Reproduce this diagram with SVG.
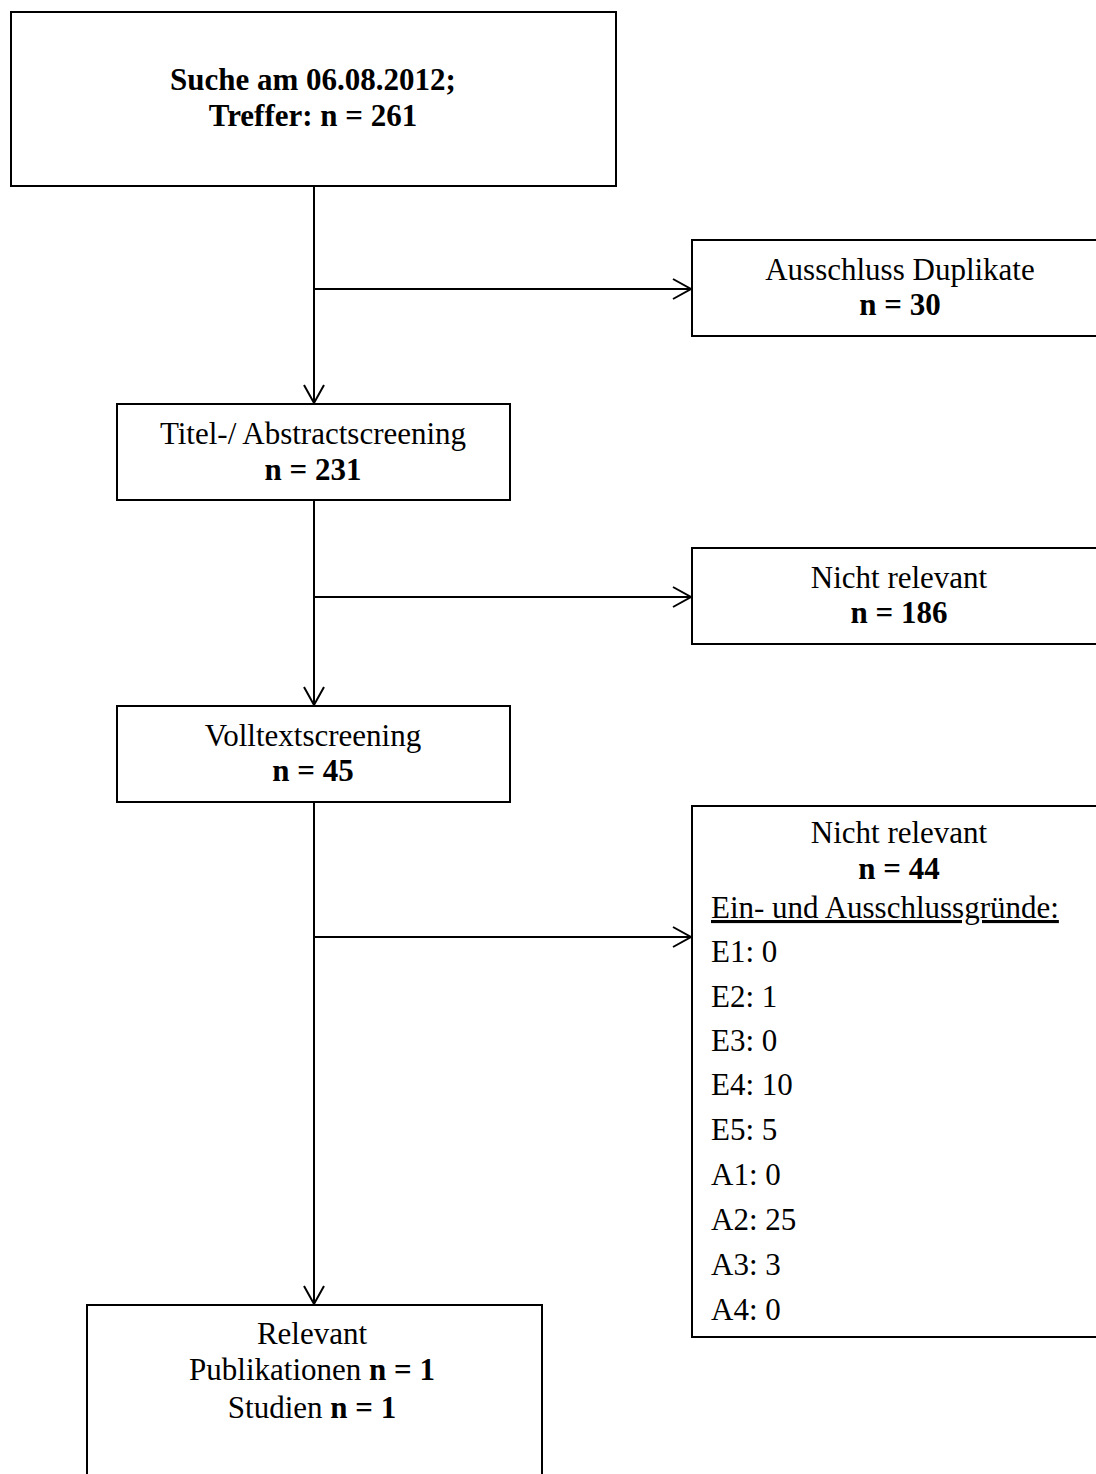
<svg xmlns="http://www.w3.org/2000/svg" width="1096" height="1474" viewBox="0 0 1096 1474">
<style>
.box{fill:#fff;stroke:#000;stroke-width:2}
.t{font-family:"Liberation Serif","Times New Roman",serif;font-size:31px;fill:#000}
.c{text-anchor:middle}
.b{font-weight:bold}
.ln{fill:none;stroke:#000;stroke-width:2}
</style>
<defs>
<marker id="arr" markerUnits="userSpaceOnUse" markerWidth="24" markerHeight="24" viewBox="-20 -12 24 24" refX="0" refY="0" orient="auto">
<path d="M-18,-10 L0,0 L-18,10" fill="none" stroke="#000" stroke-width="2"/>
</marker>
</defs>
<rect width="1096" height="1474" fill="#fff"/>
<g id="connectors">
<line class="ln" x1="314" y1="186" x2="314" y2="403" marker-end="url(#arr)"/>
<line class="ln" x1="314" y1="289" x2="691" y2="289" marker-end="url(#arr)"/>
<line class="ln" x1="314" y1="500" x2="314" y2="705" marker-end="url(#arr)"/>
<line class="ln" x1="314" y1="597" x2="691" y2="597" marker-end="url(#arr)"/>
<line class="ln" x1="314" y1="802" x2="314" y2="1304" marker-end="url(#arr)"/>
<line class="ln" x1="314" y1="937" x2="691" y2="937" marker-end="url(#arr)"/>
</g>
<g id="suche">
<rect class="box" x="11" y="12" width="605" height="174"/>
<text class="t c b" x="313" y="90">Suche am 06.08.2012;</text>
<text class="t c b" x="313" y="126">Treffer: n = 261</text>
</g>
<g id="duplikate">
<rect class="box" x="692" y="240" width="420" height="96"/>
<text class="t c" x="900" y="280">Ausschluss Duplikate</text>
<text class="t c b" x="900" y="315">n = 30</text>
</g>
<g id="titel">
<rect class="box" x="117" y="404" width="393" height="96"/>
<text class="t c" x="313" y="444">Titel-/ Abstractscreening</text>
<text class="t c b" x="313" y="480">n = 231</text>
</g>
<g id="nicht1">
<rect class="box" x="692" y="548" width="420" height="96"/>
<text class="t c" x="899" y="588">Nicht relevant</text>
<text class="t c b" x="899" y="623">n = 186</text>
</g>
<g id="volltext">
<rect class="box" x="117" y="706" width="393" height="96"/>
<text class="t c" x="313" y="746">Volltextscreening</text>
<text class="t c b" x="313" y="781">n = 45</text>
</g>
<g id="nicht2">
<rect class="box" x="692" y="806" width="420" height="531"/>
<text class="t c" x="899" y="843">Nicht relevant</text>
<text class="t c b" x="899" y="879">n = 44</text>
<text class="t" x="711" y="918" text-decoration="underline">Ein- und Ausschlussgründe:</text>
<text class="t" x="711" y="962">E1: 0</text>
<text class="t" x="711" y="1007">E2: 1</text>
<text class="t" x="711" y="1051">E3: 0</text>
<text class="t" x="711" y="1095">E4: 10</text>
<text class="t" x="711" y="1140">E5: 5</text>
<text class="t" x="711" y="1185">A1: 0</text>
<text class="t" x="711" y="1230">A2: 25</text>
<text class="t" x="711" y="1275">A3: 3</text>
<text class="t" x="711" y="1320">A4: 0</text>
</g>
<g id="relevant">
<rect class="box" x="87" y="1305" width="455" height="190"/>
<text class="t c" x="312" y="1344">Relevant</text>
<text class="t c" x="312" y="1380">Publikationen <tspan class="b">n = 1</tspan></text>
<text class="t c" x="312" y="1418">Studien <tspan class="b">n = 1</tspan></text>
</g>
</svg>
